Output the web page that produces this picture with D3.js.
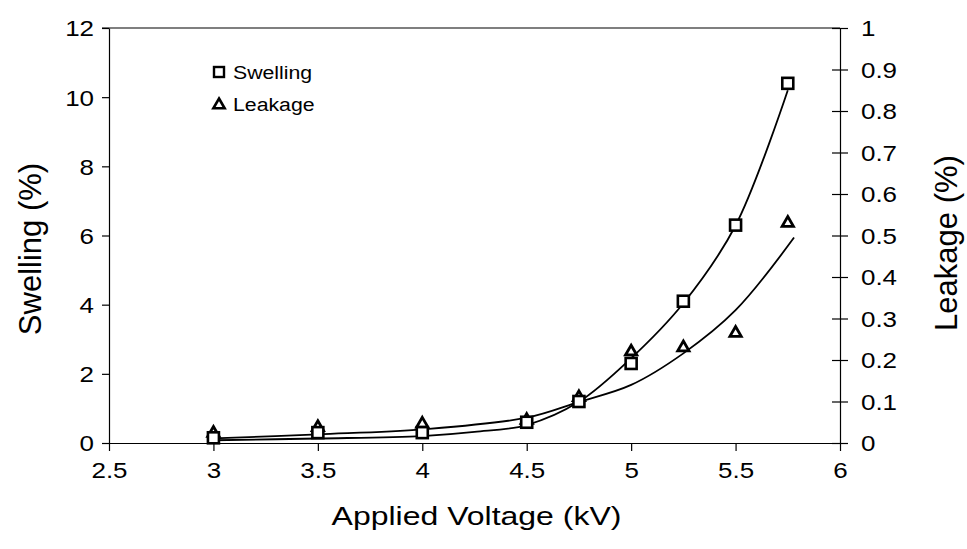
<!DOCTYPE html>
<html>
<head>
<meta charset="utf-8">
<script src="https://cdn.jsdelivr.net/npm/d3@7"></script>
<style>
  html, body { margin: 0; padding: 0; background: #fff; }
  svg { display: block; }
  text { font-family: "Liberation Sans", Arial, Helvetica, sans-serif; fill: #000; }
</style>
</head>
<body>
<svg id="chart" width="967" height="549"></svg>
<script>
// Measured points
const voltage  = [3, 3.5, 4, 4.5, 4.75, 5, 5.25, 5.5, 5.75];
const swelling = [0.15, 0.3, 0.3, 0.6, 1.2, 2.3, 4.1, 6.3, 10.4];
const leakage  = [0.024, 0.038, 0.046, 0.055, 0.11, 0.22, 0.23, 0.265, 0.53];

// Trend lines through the measurements
const swellingTrendV = [3, 3.5, 4, 4.25, 4.5, 4.75, 5, 5.25, 5.5, 5.75];
const swellingTrend  = [0.08, 0.13, 0.2, 0.32, 0.52, 1.19, 2.45, 4.04, 6.29, 10.2];
const leakageTrendV  = [3, 3.5, 4, 4.5, 4.75, 5, 5.25, 5.5, 5.78];
const leakageTrend   = [0.011, 0.021, 0.033, 0.061, 0.099, 0.14, 0.216, 0.32, 0.495];

// Axis ticks
const xTicks = [2.5, 3, 3.5, 4, 4.5, 5, 5.5, 6];
const swellingTicks = [0, 2, 4, 6, 8, 10, 12];
const leakageTicks = [0, 0.1, 0.2, 0.3, 0.4, 0.5, 0.6, 0.7, 0.8, 0.9, 1];

const legendLabels = ["Swelling", "Leakage"];

const svg = d3.select("#chart");
const L = 109, R = 840, T = 28, B = 443;
const SX = 1.18; // horizontal stretch of lettering
const tickFont = "22px";

const x = d3.scaleLinear().domain([2.5, 6]).range([L, R]);
const yS = d3.scaleLinear().domain([0, 12]).range([B, T]);
const yL = d3.scaleLinear().domain([0, 1]).range([B, T]);

// frame top line
svg.append("line").attr("x1", L - 7).attr("x2", R).attr("y1", T).attr("y2", T)
  .attr("stroke", "#000").attr("stroke-width", 1.2);

// bottom axis
const gx = svg.append("g").attr("transform", `translate(0,${B})`)
  .call(d3.axisBottom(x).tickValues(xTicks).tickSize(8).tickSizeOuter(0)
    .tickFormat(d => String(d)));
gx.selectAll("text").attr("y", 0).attr("dy", 0)
  .attr("transform", `translate(0,35) scale(${SX},1)`)
  .style("font-size", tickFont);

// left axis
const gl = svg.append("g").attr("transform", `translate(${L},0)`)
  .call(d3.axisLeft(yS).tickValues(swellingTicks).tickSize(7).tickSizeOuter(0));
gl.selectAll("text").attr("x", -15 / SX).attr("dy", "0.36em")
  .attr("transform", `scale(${SX},1)`)
  .style("font-size", tickFont);

// right axis with ticks crossing the line
const gr = svg.append("g").attr("transform", `translate(${R},0)`)
  .call(d3.axisRight(yL).tickValues(leakageTicks).tickSize(8).tickSizeOuter(0)
    .tickFormat(d => String(+d.toFixed(1))));
gr.selectAll(".tick line").attr("x1", -8);
gr.selectAll("text").attr("x", 21 / SX).attr("dy", "0.36em")
  .attr("transform", `scale(${SX},1)`)
  .style("font-size", tickFont);

[gx, gl, gr].forEach(g => {
  g.select(".domain").attr("stroke", "#000").attr("stroke-width", 1.2);
  g.selectAll(".tick line").attr("stroke", "#000").attr("stroke-width", 1.2);
});

// axis titles
svg.append("text")
  .attr("transform", `translate(${(L + R) / 2 + 2},525) scale(1.28,1)`)
  .attr("text-anchor", "middle").style("font-size", "25px")
  .text("Applied Voltage (kV)");
svg.append("text")
  .attr("transform", `translate(41,249) rotate(-90)`)
  .attr("text-anchor", "middle").style("font-size", "31px")
  .text("Swelling (%)");
svg.append("text")
  .attr("transform", `translate(957,243) rotate(-90)`)
  .attr("text-anchor", "middle").style("font-size", "31px")
  .text("Leakage (%)");

// trend lines
const sTrend = swellingTrendV.map((v, i) => [v, swellingTrend[i]]);
const lTrend = leakageTrendV.map((v, i) => [v, leakageTrend[i]]);
svg.append("path").datum(sTrend)
  .attr("d", d3.line().x(d => x(d[0])).y(d => yS(d[1])).curve(d3.curveCatmullRom))
  .attr("fill", "none").attr("stroke", "#000").attr("stroke-width", 1.8);
svg.append("path").datum(lTrend)
  .attr("d", d3.line().x(d => x(d[0])).y(d => yL(d[1])).curve(d3.curveCatmullRom))
  .attr("fill", "none").attr("stroke", "#000").attr("stroke-width", 1.8);

// markers
const triPath = d3.symbol().type(d3.symbolTriangle).size(55)();
svg.append("g").selectAll("path").data(voltage).join("path")
  .attr("d", triPath)
  .attr("transform", (d, i) => `translate(${x(d)},${yL(leakage[i])})`)
  .attr("fill", "#fff").attr("stroke", "#000").attr("stroke-width", 2.8);
svg.append("g").selectAll("rect").data(voltage).join("rect")
  .attr("x", d => x(d) - 5.5).attr("width", 11).attr("height", 11)
  .attr("y", (d, i) => yS(swelling[i]) - 5.5)
  .attr("fill", "#fff").attr("stroke", "#000").attr("stroke-width", 2.6);

// legend
const lg = svg.append("g");
lg.append("rect").attr("x", 214).attr("y", 67).attr("width", 10).attr("height", 10)
  .attr("fill", "#fff").attr("stroke", "#000").attr("stroke-width", 2.4);
lg.append("path").attr("d", triPath).attr("transform", "translate(219,105)")
  .attr("fill", "#fff").attr("stroke", "#000").attr("stroke-width", 2.6);
legendLabels.forEach((t, i) => {
  lg.append("text")
    .attr("transform", `translate(233,${79 + i * 32}) scale(1.12,1)`)
    .style("font-size", "19px").text(t);
});
</script>
</body>
</html>
